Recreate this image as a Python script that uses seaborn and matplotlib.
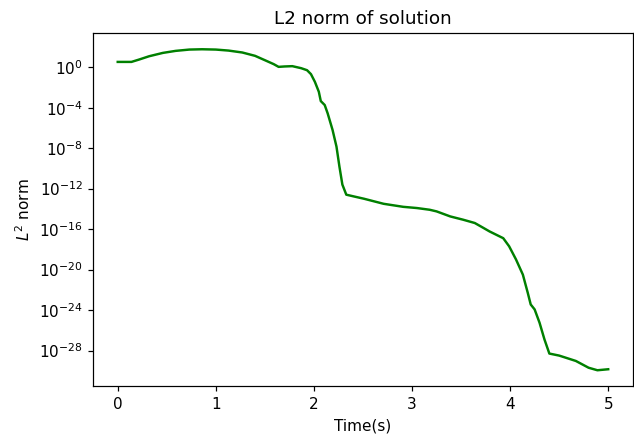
import numpy as np
import pandas as pd
import matplotlib
matplotlib.use("Agg")
import matplotlib.pyplot as plt
import seaborn as sns

# Time samples (s) and log10 of the L2 norm of the solution
time_s = [0.00, 0.14, 0.22, 0.32, 0.46, 0.59, 0.73, 0.86, 1.00, 1.13, 1.27,
          1.40, 1.50, 1.59, 1.64, 1.70, 1.78, 1.87, 1.93, 1.97, 2.01, 2.05,
          2.07, 2.11, 2.14, 2.19, 2.23, 2.26, 2.29, 2.33, 2.41, 2.51, 2.71,
          2.91, 3.05, 3.18, 3.25, 3.39, 3.52, 3.64, 3.72, 3.79, 3.93, 3.99,
          4.06, 4.13, 4.18, 4.21, 4.25, 4.30, 4.35, 4.40, 4.50, 4.67, 4.80,
          4.89, 5.00]
log10_norm = [0.52, 0.52, 0.76, 1.08, 1.41, 1.61, 1.74, 1.77, 1.74, 1.64, 1.45,
              1.12, 0.69, 0.30, 0.03, 0.07, 0.10, -0.10, -0.30, -0.69, -1.45, -2.43,
              -3.35, -3.74, -4.56, -6.2, -7.85, -9.82, -11.6, -12.6, -12.78, -13.0, -13.5,
              -13.8, -13.92, -14.09, -14.25, -14.75, -15.07, -15.4, -15.84, -16.23, -16.9, -17.7,
              -19.0, -20.5, -22.3, -23.45, -23.94, -25.25, -26.9, -28.3, -28.5, -29.03, -29.7,
              -29.95, -29.85]

df = pd.DataFrame({"t": time_s, "norm": 10.0 ** np.array(log10_norm)})

DPI = 110
fig, ax = plt.subplots(figsize=(634 / DPI, 437 / DPI), dpi=DPI)
sns.lineplot(data=df, x="t", y="norm", color="green", linewidth=1.6, ax=ax)
ax.set_yscale("log")
ax.set_title("L2 norm of solution")
ax.set_xlabel("Time(s)")
ax.set_ylabel("$L^2$ norm")
fig.subplots_adjust(left=0.147, right=0.998, top=0.924, bottom=0.116)
fig.savefig("out.png", dpi=DPI)
